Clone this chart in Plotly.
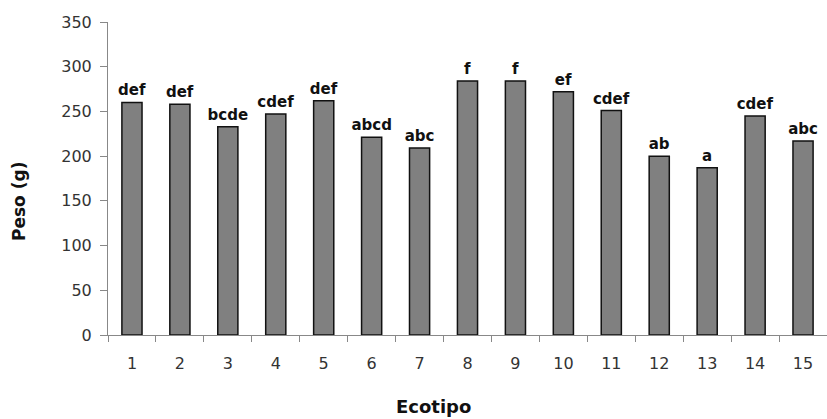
import plotly.graph_objects as go

ecotipos = [str(i) for i in range(1, 16)]
peso = [260, 258, 233, 247, 262, 221, 209, 284, 284, 272, 251, 200, 187, 245, 217]
letras = ["def", "def", "bcde", "cdef", "def", "abcd", "abc", "f", "f", "ef",
          "cdef", "ab", "a", "cdef", "abc"]
y_ticks = [0, 50, 100, 150, 200, 250, 300, 350]

font = "DejaVu Sans, Liberation Sans, Arial, sans-serif"

L, R, T, B, W, H = 108, 0, 22, 84, 827, 419
pw, ph = W - L - R, H - T - B


def px_to_paper(xp, yp):
    return (xp - L) / pw, ((H - yp) - B) / ph


fig = go.Figure(go.Bar(
    x=ecotipos, y=peso, text=letras, textposition="outside",
    textfont=dict(family=font, size=15, color="#111", weight="bold"),
    marker=dict(color="#808080", line=dict(color="#111", width=1.5)),
    width=0.42, cliponaxis=False,
))

ex, ey = px_to_paper(433, 407)
px_, py_ = px_to_paper(19, 202)

fig.update_layout(
    width=W, height=H,
    margin=dict(l=L, r=R, t=T, b=B, autoexpand=False),
    plot_bgcolor="white", paper_bgcolor="white",
    showlegend=False,
    font=dict(family=font, size=16, color="#222"),
    uniformtext=dict(minsize=15, mode="show"),
    annotations=[
        dict(text="<b>Ecotipo</b>", x=ex, y=ey, xref="paper", yref="paper",
             xanchor="center", yanchor="middle",
             showarrow=False, font=dict(family=font, size=18, color="#111")),
        dict(text="<b>Peso (g)</b>", x=px_, y=py_, xref="paper", yref="paper",
             xanchor="center", yanchor="middle", textangle=-90, showarrow=False,
             font=dict(family=font, size=17, color="#111")),
    ],
)

fig.update_xaxes(
    type="category", tickson="boundaries", ticks="outside", ticklen=6,
    tickcolor="#888", showline=True, linecolor="#888", linewidth=1,
    tickfont=dict(family=font, size=16, color="#333"), ticklabelstandoff=14,
    showgrid=False, automargin=False,
)
fig.update_yaxes(
    range=[0, 350], tickvals=y_ticks, ticks="outside", ticklen=7,
    tickcolor="#888", showline=True, linecolor="#888", linewidth=1,
    tickfont=dict(family=font, size=16, color="#333"), ticklabelstandoff=5,
    showgrid=False, zeroline=False, automargin=False,
)

fig.write_html("out.html", config={"displayModeBar": False},
               post_script="document.body.style.margin='0';")
